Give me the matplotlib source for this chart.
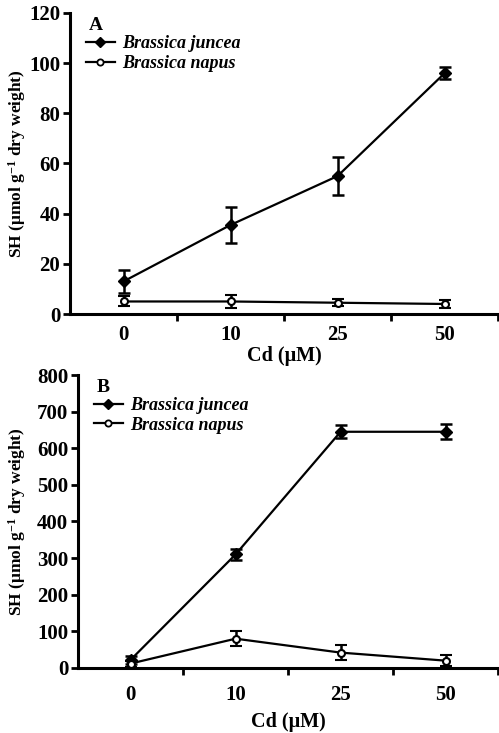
import matplotlib
matplotlib.use('Agg')
import matplotlib.pyplot as plt
from matplotlib.lines import Line2D
import numpy as np

plt.rcParams['font.family'] = ['Liberation Serif', 'DejaVu Serif']
plt.rcParams['font.weight'] = 'bold'
plt.rcParams['mathtext.fontset'] = 'custom'
plt.rcParams['mathtext.rm'] = 'Liberation Serif:bold'
plt.rcParams['mathtext.it'] = 'Liberation Serif:bold:italic'
plt.rcParams['mathtext.bf'] = 'Liberation Serif:bold'

######################################################################
# Data
cd_labels = ['0', '10', '25', '50']

juncea_a = [13, 35.5, 55, 96]
juncea_a_err = [4.5, 7, 7.5, 2.5]
napus_a = [5, 5, 4.5, 4]
napus_a_err = [2, 2.5, 1.5, 1.5]

juncea_b = [22, 310, 645, 645]
juncea_b_err = [12, 15, 18, 20]
napus_b = [12, 80, 42, 20]
napus_b_err = [8, 20, 20, 15]

panels = [
    dict(label='A', rect=[0.1403, 0.5716, 0.858, 0.4107], ymax=120, ystep=20,
         ylab_x=-0.098, tick_y=-0.035, xlab_y=-0.105,
         juncea=juncea_a, juncea_err=juncea_a_err, napus=napus_a, napus_err=napus_a_err),
    dict(label='B', rect=[0.1563, 0.0887, 0.842, 0.3997], ymax=800, ystep=100,
         ylab_x=-0.119, tick_y=-0.058, xlab_y=-0.15,
         juncea=juncea_b, juncea_err=juncea_b_err, napus=napus_b, napus_err=napus_b_err),
]

fig = plt.figure(figsize=(4.99, 7.33), dpi=100)
x = np.arange(len(cd_labels))

for p in panels:
    ax = fig.add_axes(p['rect'])
    ax.errorbar(x, p['juncea'], yerr=p['juncea_err'], color='black', lw=1.6,
                marker='D', ms=6, mfc='black', mec='black',
                capsize=4.5, capthick=1.8, elinewidth=1.8)
    ax.errorbar(x, p['napus'], yerr=p['napus_err'], color='black', lw=1.6,
                marker='o', ms=5, mfc='white', mec='black', mew=1.5,
                capsize=4.5, capthick=1.8, elinewidth=1.8)

    ax.set_xlim(-0.5, 3.5)
    ax.set_ylim(0, p['ymax'])
    ax.set_yticks(np.arange(0, p['ymax'] + 1, p['ystep']))
    ax.set_xticks([0.5, 1.5, 2.5, 3.5])
    ax.set_xticklabels([])
    for xi, lab in zip(x, cd_labels):
        ax.text(xi, p['tick_y'], lab, transform=ax.get_xaxis_transform(),
                ha='center', va='top', fontsize=15, fontweight='bold')

    for side in ['top', 'right']:
        ax.spines[side].set_visible(False)
    for side in ['left', 'bottom']:
        ax.spines[side].set_linewidth(2.2)
    ax.tick_params(axis='both', direction='out', width=2, length=5,
                   labelsize=15, pad=2)
    for t in ax.get_yticklabels():
        t.set_fontweight('bold')

    ax.set_ylabel('SH (μmol g$^{-1}$ dry weight)', fontsize=12.5, fontweight='bold')
    ax.yaxis.set_label_coords(p['ylab_x'], 0.5)
    ax.set_xlabel('Cd (μM)', fontsize=14.5, fontweight='bold')
    ax.xaxis.set_label_coords(0.5, p['xlab_y'])

    ax.text(0.045, 0.985, p['label'], transform=ax.transAxes, fontsize=14,
            fontweight='bold', va='top', ha='left')

    handles = [
        Line2D([], [], color='black', lw=1.6, marker='D', ms=5, mfc='black'),
        Line2D([], [], color='black', lw=1.6, marker='o', ms=4.5, mfc='white', mew=1.3),
    ]
    ax.legend(handles, ['Brassica juncea', 'Brassica napus'],
              loc='upper left', bbox_to_anchor=(0.02, 0.95), frameon=False,
              prop=dict(family='Liberation Serif', style='italic',
                        weight='bold', size=13),
              handlelength=1.6, handletextpad=0.4, labelspacing=0.15,
              borderaxespad=0)

fig.savefig('out.png', dpi=100)
